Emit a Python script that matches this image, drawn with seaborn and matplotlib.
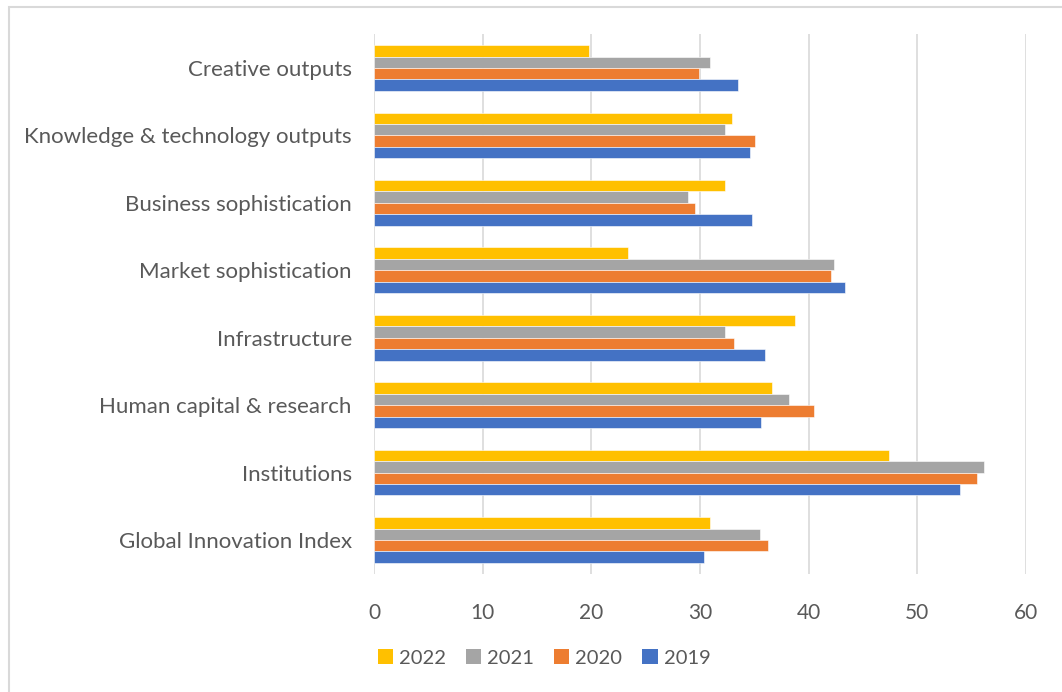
import matplotlib
matplotlib.use("Agg")
import matplotlib.pyplot as plt
import seaborn as sns
import pandas as pd
from matplotlib.patches import Rectangle, Patch

categories = [
    "Creative outputs",
    "Knowledge & technology outputs",
    "Business sophistication",
    "Market sophistication",
    "Infrastructure",
    "Human capital & research",
    "Institutions",
    "Global Innovation Index",
]
years = ["2022", "2021", "2020", "2019"]
values_2022 = [19.8, 32.9, 32.3, 23.4, 38.7, 36.6, 47.4, 30.9]
values_2021 = [30.9, 32.3, 28.9, 42.3, 32.3, 38.2, 56.1, 35.5]
values_2020 = [29.9, 35.1, 29.5, 42.1, 33.1, 40.5, 55.5, 36.3]
values_2019 = [33.5, 34.6, 34.8, 43.3, 36.0, 35.6, 53.9, 30.4]
colors = ["#FFC000", "#A5A5A5", "#ED7D31", "#4472C4"]
x_ticks = [0, 10, 20, 30, 40, 50, 60]

series = [values_2022, values_2021, values_2020, values_2019]
df = pd.DataFrame(
    [(c, y, v) for y, vals in zip(years, series) for c, v in zip(categories, vals)],
    columns=["pillar", "year", "score"],
)

sns.set_theme(style="white")
plt.rcParams["font.family"] = ["Lato", "DejaVu Sans"]
text_color = "#595959"

fig = plt.figure(figsize=(10.62, 6.92), dpi=100)
ax = fig.add_axes([374 / 1062, 1 - 573.7 / 692, (1026 - 374) / 1062, (573.7 - 34.3) / 692])

sns.barplot(
    data=df, x="score", y="pillar", hue="year",
    order=categories, hue_order=years, palette=colors,
    orient="h", width=0.68, gap=0, ax=ax, legend=False,
    edgecolor="white", linewidth=0.4, saturation=1,
)

ax.set_xlim(0, 60)
ax.set_xticks(x_ticks)
ax.set_xticklabels([str(t) for t in x_ticks], fontsize=15, color=text_color)
ax.tick_params(axis="x", length=0, pad=21)
ax.tick_params(axis="y", length=0, pad=16, labelsize=16, labelcolor=text_color)
ax.set_xlabel("")
ax.set_ylabel("")
ax.xaxis.grid(True, color="#D9D9D9", linewidth=1.2)
ax.set_axisbelow(True)
for s in ax.spines.values():
    s.set_visible(False)

handles = [Patch(facecolor=c, edgecolor="none", label=y) for y, c in zip(years, colors)]
fig.legend(
    handles=handles, loc="center", bbox_to_anchor=(544 / 1062, 1 - 658 / 692),
    ncol=4, frameon=False, fontsize=14.5, labelcolor=text_color,
    handlelength=0.75, handleheight=0.75, handletextpad=0.3, columnspacing=1.0,
)

fig.patches.append(Rectangle((8.5 / 1062, -0.1), 1.2, 1 - 6.5 / 692 + 0.1,
                             transform=fig.transFigure, fill=False,
                             edgecolor="#D9D9D9", linewidth=1.5))

fig.savefig("out.png", dpi=100)
